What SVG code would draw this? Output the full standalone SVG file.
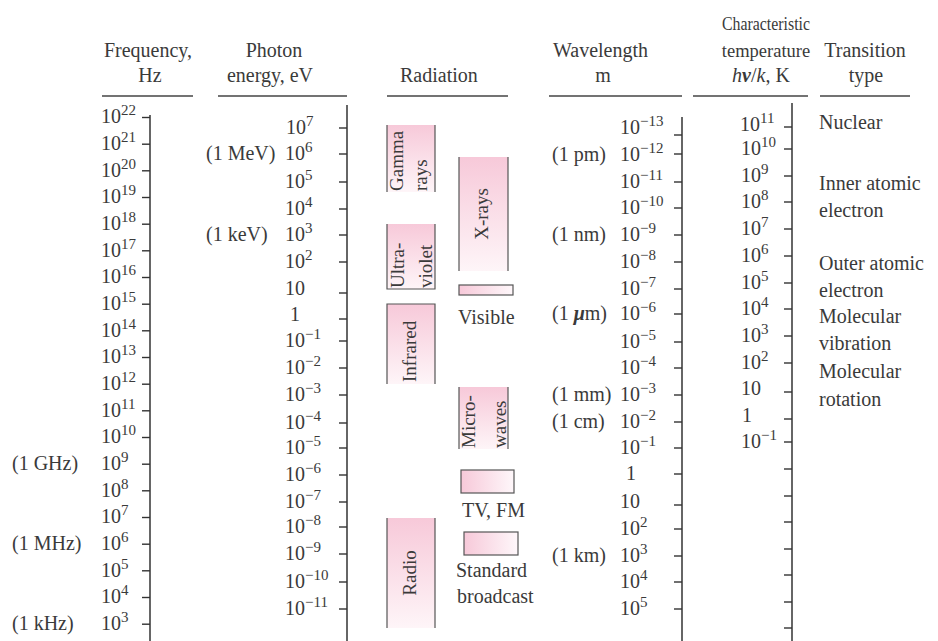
<svg xmlns="http://www.w3.org/2000/svg" width="938" height="641" viewBox="0 0 938 641">
<defs>
<linearGradient id="gv" x1="0" y1="0" x2="0" y2="1"><stop offset="0" stop-color="#f7c9d9"/><stop offset="1" stop-color="#fef5f8"/></linearGradient>
<linearGradient id="gh" x1="0" y1="0" x2="1" y2="0"><stop offset="0" stop-color="#f7c9d9"/><stop offset="1" stop-color="#fef7fa"/></linearGradient>
</defs>
<style>
text{font-family:"Liberation Serif","Times New Roman",serif;font-size:20px;fill:#3a3a3a}
.sup{font-size:15px}
.hd{text-anchor:middle}
.hs{font-size:18.5px}
.ax{stroke:#333;stroke-width:1.5;fill:none}
.tk{stroke:#333;stroke-width:1.4}
.ul{stroke:#444;stroke-width:1.3}
.side{stroke:#555;stroke-width:1.2}
.bx{stroke:#555;stroke-width:1.2}
.rt{font-size:19px}
</style>
<rect width="938" height="641" fill="#fff"/>

<g id="headers">
<text class="hd" x="148" y="57">Frequency,</text>
<text class="hd" x="150" y="82">Hz</text>
<text class="hd" x="274" y="57">Photon</text>
<text class="hd" x="270" y="82">energy, eV</text>
<text x="400" y="82">Radiation</text>
<text x="553" y="57">Wavelength</text>
<text class="hd" x="603" y="82">m</text>
<text class="hd hs" x="766" y="30" textLength="88" lengthAdjust="spacingAndGlyphs">Characteristic</text>
<text class="hd hs" x="766" y="57">temperature</text>
<text class="hd" x="761" y="82"><tspan font-style="italic">h</tspan><tspan font-style="italic" font-weight="bold">ν</tspan>/<tspan font-style="italic">k</tspan>, K</text>
<text class="hd" x="865" y="57">Transition</text>
<text class="hd" x="866" y="82">type</text>
<line class="ul" x1="102" y1="96" x2="193" y2="96"/>
<line class="ul" x1="218" y1="96" x2="347" y2="96"/>
<line class="ul" x1="387" y1="96" x2="508" y2="96"/>
<line class="ul" x1="549" y1="96" x2="682" y2="96"/>
<line class="ul" x1="693" y1="96" x2="808" y2="96"/>
<line class="ul" x1="820" y1="96" x2="910" y2="96"/>
</g>

<g id="connectors">
<line class="ax" x1="150" y1="115" x2="150" y2="641"/>
<line class="ax" x1="347" y1="105" x2="347" y2="641"/>
<line class="ax" x1="682" y1="117" x2="682" y2="641"/>
<line class="ax" x1="792" y1="103" x2="792" y2="641"/>
</g>

<g id="frequency-axis">
<g class="tk">
<line x1="142" y1="117.5" x2="150" y2="117.5"/><line x1="142" y1="144.2" x2="150" y2="144.2"/><line x1="142" y1="170.8" x2="150" y2="170.8"/><line x1="142" y1="197.5" x2="150" y2="197.5"/><line x1="142" y1="224.2" x2="150" y2="224.2"/><line x1="142" y1="250.8" x2="150" y2="250.8"/><line x1="142" y1="277.5" x2="150" y2="277.5"/><line x1="142" y1="304.2" x2="150" y2="304.2"/><line x1="142" y1="330.8" x2="150" y2="330.8"/><line x1="142" y1="357.5" x2="150" y2="357.5"/><line x1="142" y1="384.2" x2="150" y2="384.2"/><line x1="142" y1="410.8" x2="150" y2="410.8"/><line x1="142" y1="437.5" x2="150" y2="437.5"/><line x1="142" y1="464.2" x2="150" y2="464.2"/><line x1="142" y1="490.8" x2="150" y2="490.8"/><line x1="142" y1="517.5" x2="150" y2="517.5"/><line x1="142" y1="544.2" x2="150" y2="544.2"/><line x1="142" y1="570.8" x2="150" y2="570.8"/><line x1="142" y1="597.5" x2="150" y2="597.5"/><line x1="142" y1="624.2" x2="150" y2="624.2"/>
</g>
<text x="101" y="123">10<tspan class="sup" dy="-8">22</tspan></text>
<text x="101" y="150">10<tspan class="sup" dy="-8">21</tspan></text>
<text x="101" y="177">10<tspan class="sup" dy="-8">20</tspan></text>
<text x="101" y="203">10<tspan class="sup" dy="-8">19</tspan></text>
<text x="101" y="230">10<tspan class="sup" dy="-8">18</tspan></text>
<text x="101" y="257">10<tspan class="sup" dy="-8">17</tspan></text>
<text x="101" y="283">10<tspan class="sup" dy="-8">16</tspan></text>
<text x="101" y="310">10<tspan class="sup" dy="-8">15</tspan></text>
<text x="101" y="337">10<tspan class="sup" dy="-8">14</tspan></text>
<text x="101" y="363">10<tspan class="sup" dy="-8">13</tspan></text>
<text x="101" y="390">10<tspan class="sup" dy="-8">12</tspan></text>
<text x="101" y="417">10<tspan class="sup" dy="-8">11</tspan></text>
<text x="101" y="443">10<tspan class="sup" dy="-8">10</tspan></text>
<text x="101" y="470">10<tspan class="sup" dy="-8">9</tspan></text>
<text x="101" y="497">10<tspan class="sup" dy="-8">8</tspan></text>
<text x="101" y="523">10<tspan class="sup" dy="-8">7</tspan></text>
<text x="101" y="550">10<tspan class="sup" dy="-8">6</tspan></text>
<text x="101" y="577">10<tspan class="sup" dy="-8">5</tspan></text>
<text x="101" y="603">10<tspan class="sup" dy="-8">4</tspan></text>
<text x="101" y="630">10<tspan class="sup" dy="-8">3</tspan></text>
<text x="12" y="470">(1 GHz)</text>
<text x="12" y="550">(1 MHz)</text>
<text x="12" y="630">(1 kHz)</text>
</g>

<g id="photon-axis">
<g class="tk">
<line x1="339" y1="128" x2="347" y2="128"/><line x1="339" y1="154" x2="347" y2="154"/><line x1="339" y1="182" x2="347" y2="182"/><line x1="339" y1="209" x2="347" y2="209"/><line x1="339" y1="235" x2="347" y2="235"/><line x1="339" y1="262" x2="347" y2="262"/><line x1="339" y1="293" x2="347" y2="293"/><line x1="339" y1="319" x2="347" y2="319"/><line x1="339" y1="341" x2="347" y2="341"/><line x1="339" y1="368" x2="347" y2="368"/><line x1="339" y1="395" x2="347" y2="395"/><line x1="339" y1="423" x2="347" y2="423"/><line x1="339" y1="448" x2="347" y2="448"/><line x1="339" y1="475" x2="347" y2="475"/><line x1="339" y1="502" x2="347" y2="502"/><line x1="339" y1="527" x2="347" y2="527"/><line x1="339" y1="554" x2="347" y2="554"/><line x1="339" y1="582" x2="347" y2="582"/><line x1="339" y1="609" x2="347" y2="609"/>
</g>
<text x="286" y="134">10<tspan class="sup" dy="-8">7</tspan></text>
<text x="285" y="160">10<tspan class="sup" dy="-8">6</tspan></text>
<text x="285" y="188">10<tspan class="sup" dy="-8">5</tspan></text>
<text x="285" y="215">10<tspan class="sup" dy="-8">4</tspan></text>
<text x="285" y="241">10<tspan class="sup" dy="-8">3</tspan></text>
<text x="285" y="268">10<tspan class="sup" dy="-8">2</tspan></text>
<text x="285" y="295">10</text>
<text x="290" y="321">1</text>
<text x="285" y="347">10<tspan class="sup" dy="-8">−1</tspan></text>
<text x="285" y="374">10<tspan class="sup" dy="-8">−2</tspan></text>
<text x="285" y="401">10<tspan class="sup" dy="-8">−3</tspan></text>
<text x="285" y="429">10<tspan class="sup" dy="-8">−4</tspan></text>
<text x="285" y="454">10<tspan class="sup" dy="-8">−5</tspan></text>
<text x="285" y="481">10<tspan class="sup" dy="-8">−6</tspan></text>
<text x="285" y="508">10<tspan class="sup" dy="-8">−7</tspan></text>
<text x="285" y="533">10<tspan class="sup" dy="-8">−8</tspan></text>
<text x="285" y="560">10<tspan class="sup" dy="-8">−9</tspan></text>
<text x="285" y="588">10<tspan class="sup" dy="-8">−10</tspan></text>
<text x="285" y="615">10<tspan class="sup" dy="-8">−11</tspan></text>
<text x="206" y="160">(1 MeV)</text>
<text x="206" y="241">(1 keV)</text>
</g>

<g id="radiation">
<g id="gamma">
<rect x="387" y="125" width="48" height="67" fill="url(#gv)"/>
<line class="side" x1="387" y1="125" x2="387" y2="192"/><line class="side" x1="435" y1="125" x2="435" y2="192"/>
<text class="rt" transform="translate(403,191) rotate(-90)">Gamma</text>
<text class="rt" transform="translate(427,191) rotate(-90)">rays</text>
</g>
<g id="ultraviolet">
<rect x="387" y="224" width="48" height="65" fill="url(#gv)"/>
<path class="side" d="M387 224V289H435V224" fill="none"/>
<text class="rt" transform="translate(404,288) rotate(-90)">Ultra-</text>
<text class="rt" transform="translate(432,288) rotate(-90)">violet</text>
</g>
<g id="infrared">
<rect x="387" y="304" width="48" height="80" fill="url(#gv)"/>
<path class="side" d="M387 384V304H435V384" fill="none"/>
<text class="rt" transform="translate(416,382) rotate(-90)">Infrared</text>
</g>
<g id="radio">
<rect x="387" y="518" width="48" height="110" fill="url(#gv)"/>
<line class="side" x1="387" y1="518" x2="387" y2="628"/><line class="side" x1="435" y1="518" x2="435" y2="628"/>
<text class="rt" text-anchor="middle" transform="translate(416,573) rotate(-90)">Radio</text>
</g>
<g id="xrays">
<rect x="459" y="157" width="49" height="114" fill="url(#gv)"/>
<line class="side" x1="459" y1="157" x2="459" y2="271"/><line class="side" x1="508" y1="157" x2="508" y2="271"/>
<text class="rt" text-anchor="middle" transform="translate(488,214) rotate(-90)">X-rays</text>
</g>
<g id="visible">
<rect class="bx" x="459" y="285" width="54" height="10" fill="url(#gh)"/>
<text x="458" y="324">Visible</text>
</g>
<g id="microwaves">
<rect x="459" y="387" width="49" height="62" fill="url(#gv)"/>
<line class="side" x1="459" y1="387" x2="459" y2="449"/><line class="side" x1="508" y1="387" x2="508" y2="449"/>
<text class="rt" transform="translate(475,448) rotate(-90)">Micro-</text>
<text class="rt" transform="translate(506,448) rotate(-90)">waves</text>
</g>
<g id="tvfm">
<rect class="bx" x="461" y="470" width="53" height="23" fill="url(#gh)"/>
<text x="462" y="517">TV, FM</text>
</g>
<g id="broadcast">
<rect class="bx" x="464" y="532" width="54" height="23" fill="url(#gh)"/>
<text x="456" y="577">Standard</text>
<text x="457" y="603">broadcast</text>
</g>
</g>

<g id="wavelength-axis">
<g class="tk">
<line x1="674" y1="135" x2="682" y2="135"/><line x1="674" y1="154" x2="682" y2="154"/><line x1="674" y1="182" x2="682" y2="182"/><line x1="674" y1="208" x2="682" y2="208"/><line x1="674" y1="235" x2="682" y2="235"/><line x1="674" y1="262" x2="682" y2="262"/><line x1="674" y1="289" x2="682" y2="289"/><line x1="674" y1="314" x2="682" y2="314"/><line x1="674" y1="342" x2="682" y2="342"/><line x1="674" y1="368" x2="682" y2="368"/><line x1="674" y1="395" x2="682" y2="395"/><line x1="674" y1="422" x2="682" y2="422"/><line x1="674" y1="448" x2="682" y2="448"/><line x1="674" y1="474" x2="682" y2="474"/><line x1="674" y1="505" x2="682" y2="505"/><line x1="674" y1="529" x2="682" y2="529"/><line x1="674" y1="556" x2="682" y2="556"/><line x1="674" y1="582" x2="682" y2="582"/><line x1="674" y1="609" x2="682" y2="609"/>
</g>
<text x="620" y="134">10<tspan class="sup" dy="-8">−13</tspan></text>
<text x="620" y="161">10<tspan class="sup" dy="-8">−12</tspan></text>
<text x="620" y="188">10<tspan class="sup" dy="-8">−11</tspan></text>
<text x="620" y="214">10<tspan class="sup" dy="-8">−10</tspan></text>
<text x="620" y="241">10<tspan class="sup" dy="-8">−9</tspan></text>
<text x="620" y="268">10<tspan class="sup" dy="-8">−8</tspan></text>
<text x="620" y="295">10<tspan class="sup" dy="-8">−7</tspan></text>
<text x="620" y="320">10<tspan class="sup" dy="-8">−6</tspan></text>
<text x="620" y="348">10<tspan class="sup" dy="-8">−5</tspan></text>
<text x="620" y="374">10<tspan class="sup" dy="-8">−4</tspan></text>
<text x="620" y="401">10<tspan class="sup" dy="-8">−3</tspan></text>
<text x="620" y="428">10<tspan class="sup" dy="-8">−2</tspan></text>
<text x="620" y="454">10<tspan class="sup" dy="-8">−1</tspan></text>
<text x="626" y="480">1</text>
<text x="620" y="508">10</text>
<text x="620" y="535">10<tspan class="sup" dy="-8">2</tspan></text>
<text x="620" y="562">10<tspan class="sup" dy="-8">3</tspan></text>
<text x="620" y="588">10<tspan class="sup" dy="-8">4</tspan></text>
<text x="620" y="615">10<tspan class="sup" dy="-8">5</tspan></text>
<text x="552" y="161">(1 pm)</text>
<text x="552" y="241">(1 nm)</text>
<text x="552" y="320">(1 <tspan font-style="italic" font-weight="bold">μ</tspan>m)</text>
<text x="552" y="401">(1 mm)</text>
<text x="552" y="428">(1 cm)</text>
<text x="552" y="562">(1 km)</text>
</g>

<g id="temperature-axis">
<g class="tk">
<line x1="784" y1="127" x2="792" y2="127"/><line x1="784" y1="149" x2="792" y2="149"/><line x1="784" y1="176" x2="792" y2="176"/><line x1="784" y1="202" x2="792" y2="202"/><line x1="784" y1="229" x2="792" y2="229"/><line x1="784" y1="256" x2="792" y2="256"/><line x1="784" y1="283" x2="792" y2="283"/><line x1="784" y1="309" x2="792" y2="309"/><line x1="784" y1="336" x2="792" y2="336"/><line x1="784" y1="363" x2="792" y2="363"/><line x1="784" y1="392" x2="792" y2="392"/><line x1="784" y1="419" x2="792" y2="419"/><line x1="784" y1="442" x2="792" y2="442"/><line x1="784" y1="469" x2="792" y2="469"/><line x1="784" y1="496" x2="792" y2="496"/><line x1="784" y1="522" x2="792" y2="522"/><line x1="784" y1="549" x2="792" y2="549"/><line x1="784" y1="575" x2="792" y2="575"/><line x1="784" y1="602" x2="792" y2="602"/><line x1="784" y1="628" x2="792" y2="628"/>
</g>
<text x="740" y="131">10<tspan class="sup" dy="-8">11</tspan></text>
<text x="741" y="155">10<tspan class="sup" dy="-8">10</tspan></text>
<text x="741" y="182">10<tspan class="sup" dy="-8">9</tspan></text>
<text x="741" y="208">10<tspan class="sup" dy="-8">8</tspan></text>
<text x="741" y="235">10<tspan class="sup" dy="-8">7</tspan></text>
<text x="741" y="262">10<tspan class="sup" dy="-8">6</tspan></text>
<text x="741" y="289">10<tspan class="sup" dy="-8">5</tspan></text>
<text x="741" y="315">10<tspan class="sup" dy="-8">4</tspan></text>
<text x="741" y="342">10<tspan class="sup" dy="-8">3</tspan></text>
<text x="741" y="369">10<tspan class="sup" dy="-8">2</tspan></text>
<text x="741" y="395">10</text>
<text x="742" y="422">1</text>
<text x="741" y="448">10<tspan class="sup" dy="-8">−1</tspan></text>
</g>

<g id="transition-types">
<text x="819" y="129">Nuclear</text>
<text x="819" y="190">Inner atomic</text>
<text x="819" y="217">electron</text>
<text x="819" y="270">Outer atomic</text>
<text x="819" y="297">electron</text>
<text x="819" y="323">Molecular</text>
<text x="819" y="350">vibration</text>
<text x="819" y="378">Molecular</text>
<text x="819" y="406">rotation</text>
</g>
</svg>
